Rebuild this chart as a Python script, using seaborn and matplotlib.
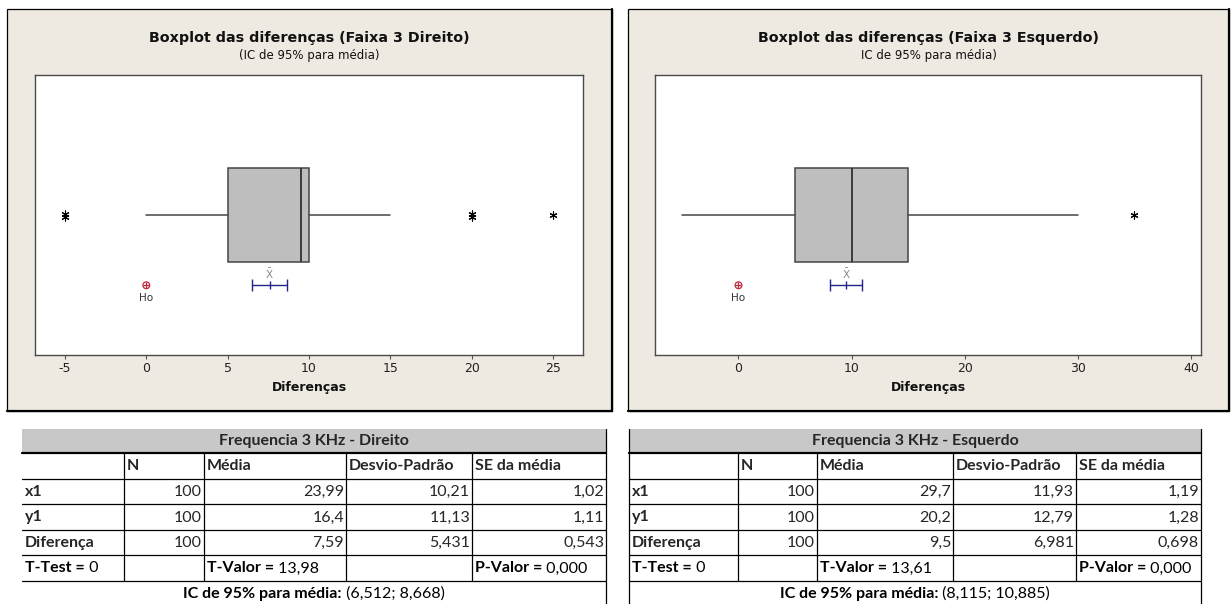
import matplotlib
matplotlib.use("Agg")
import matplotlib.pyplot as plt
import matplotlib.transforms as mtransforms
from matplotlib.patches import Rectangle
import seaborn as sns

# Boxplot summaries
panel_titles = ["Boxplot das diferenças (Faixa 3 Direito)",
                "Boxplot das diferenças (Faixa 3 Esquerdo)"]
panel_subtitles = ["(IC de 95% para média)", "IC de 95% para média)"]
box_q1 = [5, 5]
box_median = [9.5, 10]
box_q3 = [10, 15]
whisker_low = [0, -5]
whisker_high = [15, 30]
outlier_values = [[-5, 20, 25], [35]]
outlier_counts = [[2, 2, 1], [1]]
diff_mean = [7.59, 9.5]
ci_low = [6.512, 8.115]
ci_high = [8.668, 10.885]
h0_value = [0, 0]
x_ticks = [[-5, 0, 5, 10, 15, 20, 25], [0, 10, 20, 30, 40]]

# Summary tables below the charts
table_titles = ["Frequencia 3 KHz - Direito", "Frequencia 3 KHz - Esquerdo"]
col_headers = ["N", "Média", "Desvio-Padrão", "SE da média"]
row_labels = ["x1", "y1", "Diferença"]
n_values = [[100, 100, 100], [100, 100, 100]]
mean_values = [[23.99, 16.4, 7.59], [29.7, 20.2, 9.5]]
sd_values = [[10.21, 11.13, 5.431], [11.93, 12.79, 6.981]]
se_values = [[1.02, 1.11, 0.543], [1.19, 1.28, 0.698]]
t_values = [13.98, 13.61]
p_values = ["0,000", "0,000"]

# layout (pixels)
W, H = 1231, 604
panel_px = [(7, 9, 612, 411), (628, 9, 1229, 411)]
plot_px = [(35, 75, 583, 355), (655, 75, 1201, 355)]
xlims = [(-6.84, 26.84), (-7.38, 40.88)]
table_cols = [[22, 124, 204, 346, 472, 606], [629, 738, 817, 953, 1076, 1201]]
table_rows = [429, 453, 479, 504, 530, 555, 581, 604]

BOX_Y, BOX_H, CI_Y = 0.5, 0.335, 0.751
GRAY_EDGE = "#454545"
NAVY = "#23238C"
RED = "#C0283C"
PANEL_BG = "#EEEAE1"
TABLE_FONT = "Lato"
TFS = 11.5

sns.set_style("white")
plt.rcParams["font.family"] = ["DejaVu Sans"]


def br(v):
    return f"{v:g}".replace(".", ",")


fig = plt.figure(figsize=(W / 100, H / 100), dpi=100)
fig.patch.set_facecolor("white")
bg = fig.add_axes([0, 0, 1, 1], zorder=0)
bg.set_xlim(0, W)
bg.set_ylim(H, 0)
bg.axis("off")

for i in range(2):
    # panel frame
    px0, py0, px1, py1 = panel_px[i]
    bg.add_patch(Rectangle((px0, py0), px1 - px0, py1 - py0, facecolor=PANEL_BG,
                           edgecolor="black", lw=0.9))
    bg.plot([px1, px1], [py0, py1], color="black", lw=1.6)
    bg.plot([px0, px1], [py1, py1], color="black", lw=1.6)
    cx = (px0 + px1) / 2
    bg.text(cx, 38, panel_titles[i], ha="center", va="center", fontsize=10.3,
            fontweight="bold", color="#111111")
    bg.text(cx, 56, panel_subtitles[i], ha="center", va="center", fontsize=8.5,
            color="#111111")

    x0, y0, x1, y1 = plot_px[i]
    ax = fig.add_axes([x0 / W, 1 - y1 / H, (x1 - x0) / W, (y1 - y0) / H], zorder=2)
    ax.set_facecolor("white")

    stats = [dict(med=box_median[i], q1=box_q1[i], q3=box_q3[i],
                  whislo=whisker_low[i], whishi=whisker_high[i], fliers=[])]
    ax.bxp(stats, positions=[BOX_Y], widths=BOX_H, orientation="horizontal",
           patch_artist=True, showcaps=False, showfliers=False, manage_ticks=False,
           boxprops=dict(facecolor="#BEBEBE", edgecolor=GRAY_EDGE, linewidth=1.1),
           whiskerprops=dict(color=GRAY_EDGE, linewidth=1.1),
           medianprops=dict(color="#303030", linewidth=1.3))

    # outliers (asterisks, stacked when repeated)
    for v, c in zip(outlier_values[i], outlier_counts[i]):
        for k in range(c):
            tr = mtransforms.offset_copy(ax.transData, fig=fig, x=0,
                                         y=(k - (c - 1) / 2) * 3, units="dots")
            sns.scatterplot(x=[v], y=[BOX_Y], ax=ax, marker=(6, 2, 0), s=26,
                            color="black", linewidth=0.8, transform=tr, zorder=3,
                            legend=False)

    # 95% CI of the mean
    ax.plot([ci_low[i], ci_high[i]], [CI_Y, CI_Y], color=NAVY, lw=1)
    ax.plot([ci_low[i], ci_high[i]], [CI_Y, CI_Y], ls="none", marker="|",
            ms=8, mew=1, color=NAVY)
    ax.plot([diff_mean[i]], [CI_Y], ls="none", marker="|", ms=6, mew=1, color=NAVY)
    ax.text(diff_mean[i], 0.712, r"$\bar{\mathrm{X}}$", ha="center", va="center",
            fontsize=7.5, color="#888888")

    # null hypothesis marker
    ax.scatter([h0_value[i]], [CI_Y], marker="o", s=24, facecolors="none",
               edgecolors=RED, linewidths=0.9, zorder=3)
    ax.scatter([h0_value[i]], [CI_Y], marker="+", s=24, color=RED,
               linewidths=0.9, zorder=3)
    ax.text(h0_value[i], 0.795, "Ho", ha="center", va="center", fontsize=7.5,
            color="#333333")

    ax.set_xlim(xlims[i])
    ax.set_ylim(1, 0)
    ax.set_yticks([])
    ax.set_xticks(x_ticks[i])
    ax.set_xticklabels([str(t) for t in x_ticks[i]])
    ax.tick_params(axis="x", direction="out", length=3, width=0.8, color="#555555",
                   labelsize=9, labelcolor="#222222", pad=2, bottom=True)
    for sp in ax.spines.values():
        sp.set_color("#4A4A4A")
        sp.set_linewidth(1.0)
    bg.text((x0 + x1) / 2, 387, "Diferenças", ha="center", va="center",
            fontsize=9, fontweight="bold", color="#111111")

# tables
fig.canvas.draw()
renderer = fig.canvas.get_renderer()
ic_pairs = []


def mixed(x, y, bold, normal, fs=TFS):
    t1 = bg.text(x, y, bold, ha="left", va="center", fontsize=fs, fontweight="bold",
                 family=TABLE_FONT, color="black")
    t2 = bg.annotate(normal, xy=(1, 0.5), xycoords=t1, ha="left", va="center",
                     fontsize=fs, family=TABLE_FONT, color="black")
    return t1, t2


for i in range(2):
    xs = table_cols[i]
    ys = table_rows
    tx0, tx1 = xs[0], xs[-1]
    bg.add_patch(Rectangle((tx0, ys[0]), tx1 - tx0, ys[1] - ys[0],
                           facecolor="#C8C8C8", edgecolor="none"))
    for k, y in enumerate(ys[1:7]):
        bg.plot([tx0, tx1], [y, y], color="black", lw=1.6 if k == 0 else 0.9)
    for x in xs[1:-1]:
        bg.plot([x, x], [ys[1], ys[6]], color="black", lw=0.9)
    bg.plot([tx1, tx1], [ys[0], H], color="black", lw=0.9)
    if i == 1:
        bg.plot([tx0, tx0], [ys[0], H], color="black", lw=0.9)

    def mid(r):
        return (ys[r] + ys[r + 1]) / 2 + 0.5

    bg.text((tx0 + tx1) / 2, mid(0), table_titles[i], ha="center", va="center",
            fontsize=TFS, fontweight="bold", family=TABLE_FONT)
    for j, name in enumerate(col_headers):
        bg.text(xs[j + 1] + 3, mid(1), name, ha="left", va="center", fontsize=TFS,
                fontweight="bold", family=TABLE_FONT)
    cols = [n_values[i], mean_values[i], sd_values[i], se_values[i]]
    for r, lab in enumerate(row_labels):
        bg.text(tx0 + 3, mid(r + 2), lab, ha="left", va="center", fontsize=TFS,
                fontweight="bold", family=TABLE_FONT)
        for j, col in enumerate(cols):
            bg.text(xs[j + 2] - 2, mid(r + 2), br(col[r]), ha="right", va="center",
                    fontsize=TFS, family=TABLE_FONT)
    mixed(tx0 + 3, mid(5), "T-Test =", " 0")
    mixed(xs[2] + 3, mid(5), "T-Valor =", " " + br(t_values[i]))
    mixed(xs[4] + 3, mid(5), "P-Valor =", " " + p_values[i])
    t1, t2 = mixed(tx0, 594, "IC de 95% para média:",
                   f" ({br(ci_low[i])}; {br(ci_high[i])})")
    ic_pairs.append((t1, t2, (tx0 + tx1) / 2))

fig.canvas.draw()
for t1, t2, cx in ic_pairs:
    w = t2.get_window_extent(renderer).x1 - t1.get_window_extent(renderer).x0
    t1.set_x(cx - w / 2)

fig.savefig("out.png", dpi=100, facecolor="white")
